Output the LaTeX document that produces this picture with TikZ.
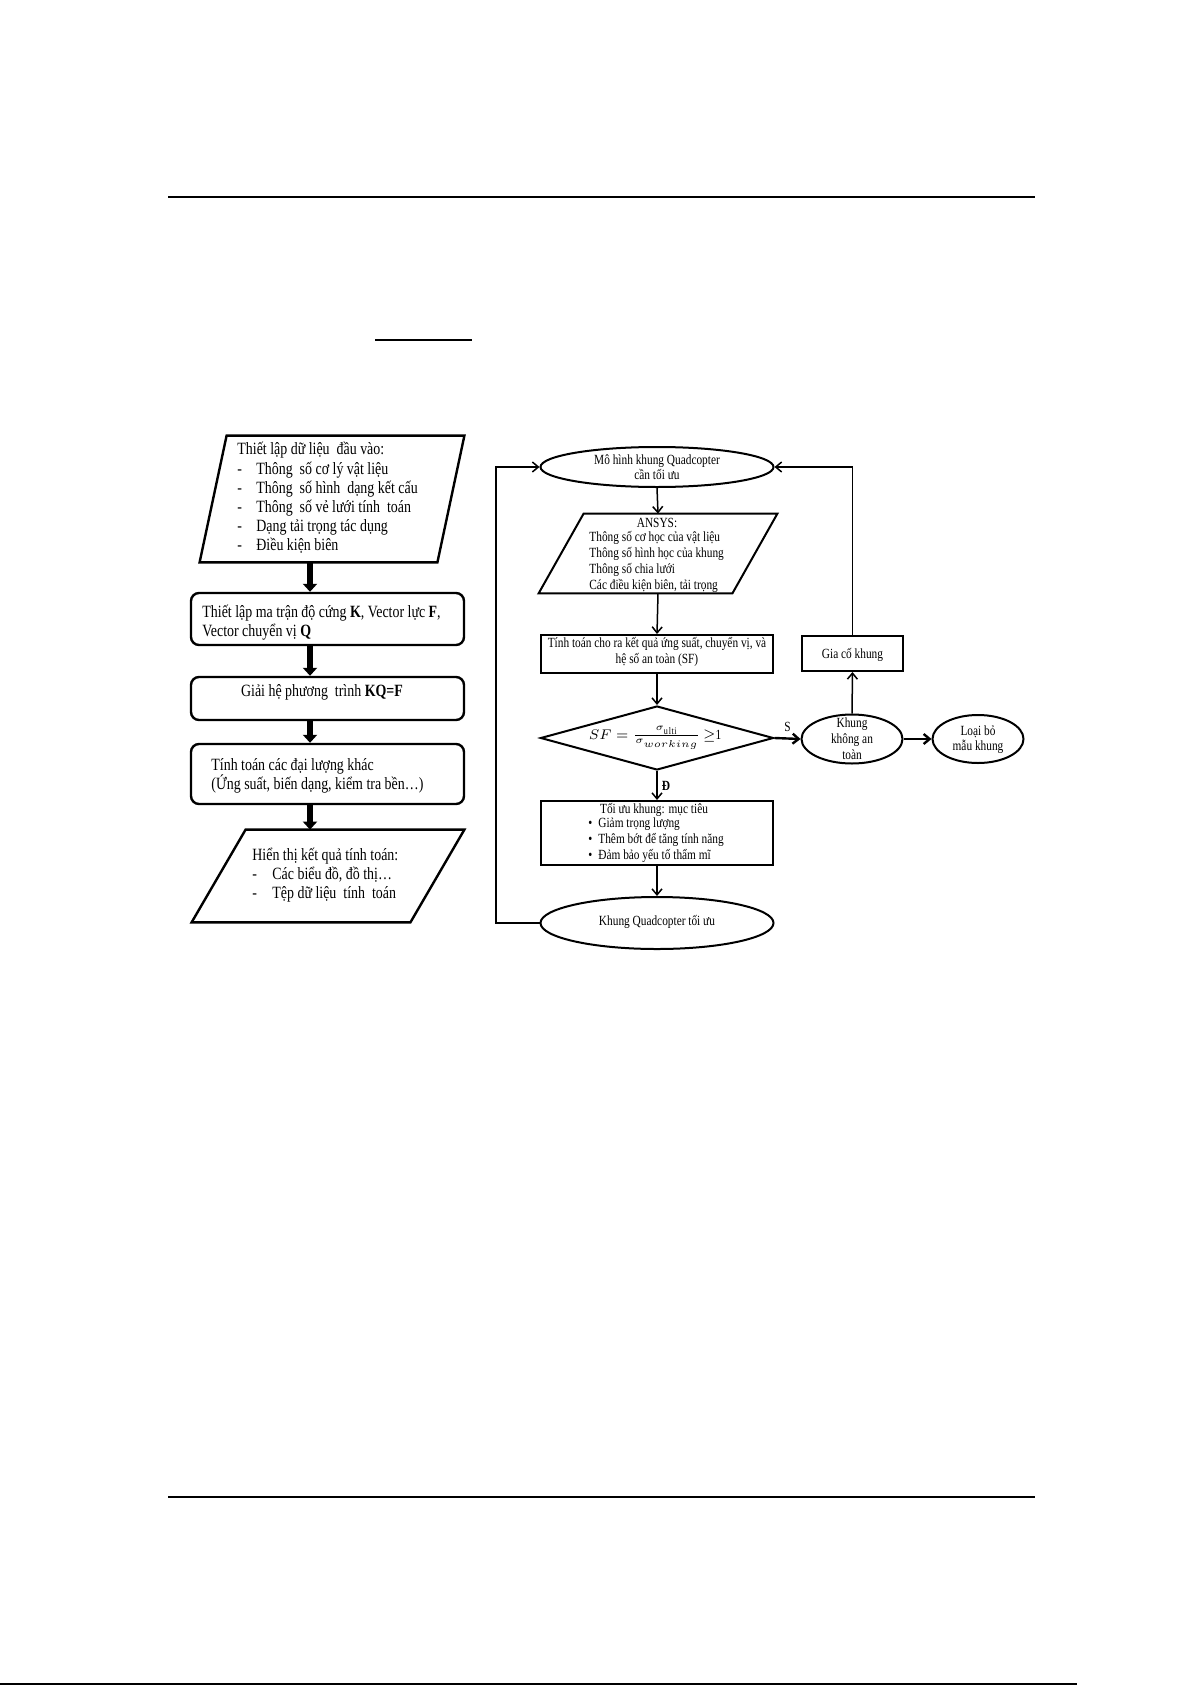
\documentclass[tikz,border=0pt]{standalone}
\usepackage{fontspec}
\setmainfont{Liberation Serif}[FakeStretch=0.81]
\usetikzlibrary{
    positioning,
    shapes.geometric,
    arrows.meta,
    calc
    }
\newcommand{\dashitem}[1]{\makebox[9.5pt][l]{-}#1}
\newcommand{\outitem}[1]{\makebox[10pt][l]{-}#1}
\newcommand{\bulitem}[1]{\makebox[5pt][l]{\textbullet}#1}

\begin{document}
\begin{tikzpicture}[x=0.5pt, y=-0.5pt]
\useasboundingbox (0,0) rectangle (1192,1685);

\tikzset{rule/.style = { line width=1pt } }

\tikzset{lefttext/.style =
        {
            font=\fontsize{8.6}{9.6}\selectfont,
            inner sep=0pt,
            align=left
        }
}

\tikzset{righttext/.style =
        {
            font=\fontsize{7}{8}\selectfont,
            inner sep=0pt,
            align=center
        }
}

\tikzset{frame/.style =
        {
            rectangle,
            inner sep=0pt
        }
}

\tikzset{slanted/.style = { line width=1.2pt } }

\tikzset{stepbox/.style =
        {
            rectangle,
            rounded corners=4pt,
            line width=1.2pt,
            minimum width=136.5pt,
            inner sep=0pt,
            draw
        }
}

\tikzset{bigmove/.style =
        {
            line width=3pt,
            -{Triangle[length=4pt, width=7pt]}
        }
}

\tikzset{procbox/.style =
        {
            rectangle,
            line width=1pt,
            minimum width=116pt,
            inner sep=0pt,
            draw
        }
}

\tikzset{term/.style =
        {
            ellipse,
            line width=1pt,
            inner sep=0pt,
            draw
        }
}

\tikzset{decision/.style =
        {
            diamond,
            aspect=3.6,
            line width=1pt,
            inner sep=0pt,
            draw
        }
}

\tikzset{flow/.style =
        {
            line width=0.75pt,
            -{Straight Barb[length=3pt, width=5pt]}
        }
}

\tikzset{heavy flow/.style = { flow, line width=1.2pt } }

% page rules
\draw[rule] (168,197) -- (1035,197);
\draw[rule] (375,340) -- (472,340);
\draw[rule] (168,1497) -- (1035,1497);
\draw[rule] (0,1684) -- (1077,1684);

% left column
\node[frame, minimum width=132pt, minimum height=63pt] (in1) at (332,499) {};
\node[frame, minimum width=136pt, minimum height=46pt] (out) at (328,876) {};
\foreach \frm / \sl in {in1/27, out/54}
\draw[slanted] ($(\frm.north west)+(\sl,0)$) -- (\frm.north east)
    -- ($(\frm.south east)-(\sl,0)$) -- (\frm.south west) -- cycle;

\node[stepbox, minimum height=26pt] (stiff) at (327.5,619) {};
\node[stepbox, minimum height=21.5pt] (solve) at (327.5,698.5) {};
\node[stepbox, minimum height=30pt] (other) at (327.5,774) {};

\node[lefttext, anchor=west] (in1-txt) at (237,498) {Thiết lập dữ liệu\ \ đầu vào:\\
    \dashitem{Thông\ \ số cơ lý vật liệu}\\
    \dashitem{Thông\ \ số hình\ \ dạng kết cấu}\\
    \dashitem{Thông\ \ số vẻ lưới tính\ \ toán}\\
    \dashitem{Dạng tải trọng tác dụng}\\
    \dashitem{Điều kiện biên}};
\node[lefttext, anchor=west] (stiff-txt) at (202,623) {Thiết lập ma trận độ cứng \textbf{K}, Vector lực \textbf{F},\\
    Vector chuyển vị \textbf{Q}};
\node[lefttext] (solve-txt) at (322,692) {Giải hệ phương\ \ trình \textbf{KQ=F}};
\node[lefttext, anchor=west] (other-txt) at (211,776) {Tính toán các đại lượng khác\\
    (Ứng suất, biến dạng, kiểm tra bền…)};
\node[lefttext, anchor=west] (out-txt) at (252,875) {Hiển thị kết quả tính toán:\\
    \outitem{Các biểu đồ, đồ thị…}\\
    \outitem{Tệp dữ liệu\ \ tính\ \ toán}};

\coordinate (spine) at (310,0);
\foreach \start / \finish in {in1/stiff, stiff/solve, solve/other, other/out}
\draw[bigmove] (\start.south -| spine) -- (\finish.north -| spine);

% right column
\node[term, minimum width=116.5pt, minimum height=20pt] (start) at (657,467) {};
\node[frame, minimum width=119pt, minimum height=39.5pt] (ansys) at (658,553.5) {};
\draw[line width=1pt] ($(ansys.north west)+(45,0)$) -- (ansys.north east)
    -- ($(ansys.south east)-(45,0)$) -- (ansys.south west) -- cycle;
\node[procbox, minimum height=19pt] (calc) at (657,654) {};
\node[decision, minimum width=116.5pt, minimum height=32pt] (check) at (657,738) {};
\node[procbox, minimum height=32pt] (opt) at (657,833) {};
\node[term, minimum width=116.5pt, minimum height=26pt] (final) at (657,923) {};
\node[term, minimum width=50.5pt, minimum height=24.5pt] (unsafe) at (852,739) {};
\node[term, minimum width=45.5pt, minimum height=24pt] (reject) at (978,739) {};
\node[procbox, minimum width=50.5pt, minimum height=17.5pt] (reinforce) at (852.5,653.5) {};

\node[righttext, font=\fontsize{7}{7.2}\selectfont] (start-txt) at (657,467) {Mô hình khung Quadcopter\\ cần tối ưu};
\node[righttext] (ansys-head) at (657,523) {ANSYS:};
\node[righttext, align=left, anchor=west] (ansys-txt) at (589,562) {Thông số cơ học của vật liệu\\
    Thông số hình học của khung\\
    Thông số chia lưới\\
    Các điều kiện biên, tải trọng};
\node[righttext] (calc-txt) at (657,652) {Tính toán cho ra kết quả ứng suất, chuyển vị, và\\ hệ số an toàn (SF)};
\node[righttext] (check-txt) at (655,738) {$SF=\frac{\sigma_{\mathrm{ulti}}}{\sigma_{working}}$\,$\geq$1};
\node[righttext] (opt-head) at (654,810) {Tối ưu khung: mục tiêu};
\node[righttext, align=left, anchor=west] (opt-txt) at (588,840) {\bulitem{Giảm trọng lượng}\\
    \bulitem{Thêm bớt để tăng tính năng}\\
    \bulitem{Đảm bảo yếu tố thẩm mĩ}};
\node[righttext] (final-txt) at (657,922) {Khung Quadcopter tối ưu};
\node[righttext] (unsafe-txt) at (852,739) {Khung\\ không an\\ toàn};
\node[righttext, font=\fontsize{7}{7.6}\selectfont] (reject-txt) at (978,740) {Loại bỏ\\ mẫu khung};
\node[righttext] (reinforce-txt) at (852.5,655) {Gia cố khung};

\foreach \start / \finish in {start/ansys, ansys/calc, calc/check, opt/final}
\draw[flow] (\start.south) -- (\finish.north);
\draw[flow] (check.south) -- node[righttext, right=2pt, font=\fontsize{7}{8}\bfseries] (lab-d) {Đ} (opt.north);
\draw[heavy flow] (check.east) -- node[righttext, above=3pt] (lab-s) {S} (unsafe.west);
\draw[heavy flow] (unsafe.east) -- (reject.west);
\draw[flow] (unsafe.north) -- (reinforce.south);
\draw[flow] (reinforce.north) |- (start.east);

\coordinate (loop) at (496,0);
\draw[flow] (final.west) -- (final.west -| loop) |- (start.west);

\end{tikzpicture}
\end{document}
